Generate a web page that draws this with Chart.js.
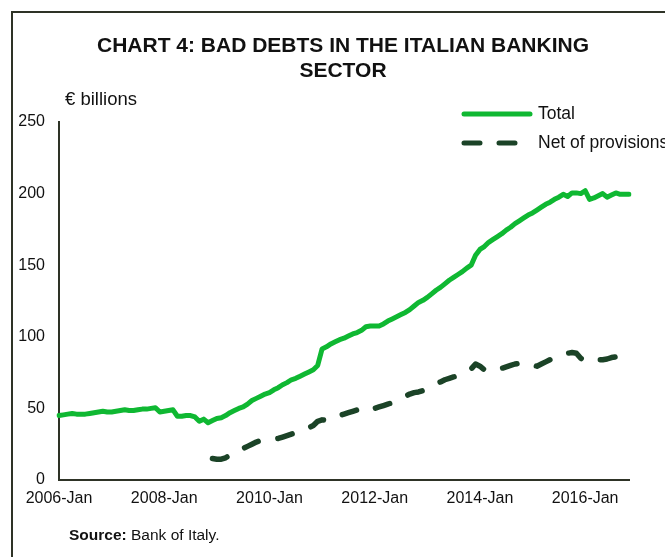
<!DOCTYPE html>
<html>
<head>
<meta charset="utf-8">
<script src="https://cdn.jsdelivr.net/npm/chart.js@4.4.1/dist/chart.umd.min.js"></script>
<style>
  html, body { margin: 0; padding: 0; background: #fff; }
  #wrap { width: 665px; height: 557px; position: relative; }
</style>
</head>
<body>
<div id="wrap"><canvas id="badDebts"></canvas></div>
<script>
// monthly observations, 2006-Jan .. 2016-Nov
const monthNames = ['Jan', 'Feb', 'Mar', 'Apr', 'May', 'Jun', 'Jul', 'Aug', 'Sep', 'Oct', 'Nov', 'Dec'];
const firstYear = 2006;
const monthCount = 131;
const months = [];
for (let i = 0; i < monthCount; i++) {
  months.push(`${firstYear + Math.floor(i / 12)}-${monthNames[i % 12]}`);
}

// € billions
const totalBadDebts = [
  45, 45.5, 46, 46.5, 46, 46, 46, 46.5, 47, 47.5, 48, 47.5,
  47.5, 48, 48.5, 49, 48.5, 48.5, 49, 49.5, 49.5, 50, 50.5, 47.5,
  48, 48.5, 49, 44.5, 44.5, 45, 45, 44, 41, 42.5, 40, 41.5,
  43, 43.5, 45, 47, 48.5, 50, 51, 53, 55.5, 57, 58.5, 60,
  61, 63, 64.5, 66.5, 68, 70, 71, 72.5, 74, 75.5, 77, 80,
  91.5, 93, 95, 96.5, 98, 99, 100.5, 102, 103, 104.5, 107, 107.5,
  107.5, 107.5, 109, 111, 112.5, 114, 115.5, 117, 119, 121.5, 124, 125.5,
  127.5, 130, 132.5, 134.5, 137, 139.5, 141.5, 143.5, 145.5, 148, 150, 157,
  161, 163, 166, 168, 170, 172, 174.5, 176.5, 179, 181, 183, 185,
  186.5, 188.5, 190.5, 192.5, 194, 196, 197.5, 199.5, 198, 200.5, 200.5, 200,
  202, 196, 197, 198.5, 200, 197.5, 199, 200.5, 199.5, 199.5, 199.5
];

const netOfProvisions = [
  null, null, null, null, null, null, null, null, null, null, null, null,
  null, null, null, null, null, null, null, null, null, null, null, null,
  null, null, null, null, null, null, null, null, null, null, null, 15,
  14.5, 14.5, 15.5, 17.5, 19, 21, 22, 23.5, 25, 26.5, 27.5, 28,
  28.5, 28.5, 29, 30, 31, 32, 33, 34, 35, 36.5, 38, 41,
  42, 41.5, 42, 43.5, 45, 46, 47, 48, 49, 50, 50.5, 51.5,
  50, 51, 52, 53, 54, 55.5, 57, 58.5, 60, 61, 61.5, 62.5,
  64, 65.5, 67, 68.5, 70, 71, 72, 73, 74, 75.5, 77.5, 81,
  79.5, 77, 76, 76.5, 77, 78, 79, 80, 81, 81.5, 82, 81.5,
  80.5, 79.5, 81, 82.5, 84, 85, 86.5, 87.5, 88.5, 89, 88.5, 85,
  83, 83, 83.5, 84, 84, 84.5, 85.5, 86, 85.5, 85.5, 85.5
];

const seriesLabels = ['Total', 'Net of provisions'];
const yTicks = [0, 50, 100, 150, 200, 250];
const titleLines = ['CHART 4: BAD DEBTS IN THE ITALIAN BANKING', 'SECTOR'];

const GREEN = '#0fb832';
const DARK = '#1b4327';
const INK = '#111';
const AXIS = '#2e3326';
const FONT = '"Liberation Sans", Arial, sans-serif';

// title, unit label, legend, source and frame
const decorations = {
  id: 'decorations',
  afterDraw(chart) {
    const { ctx } = chart;
    ctx.save();

    // frame
    ctx.strokeStyle = AXIS;
    ctx.lineWidth = 2;
    ctx.beginPath();
    ctx.moveTo(12, 557);
    ctx.lineTo(12, 12);
    ctx.lineTo(665, 12);
    ctx.stroke();

    ctx.fillStyle = INK;
    ctx.textBaseline = 'middle';
    ctx.textAlign = 'center';
    ctx.font = `bold 21px ${FONT}`;
    ctx.fillText(titleLines[0], 343, 46);
    ctx.fillText(titleLines[1], 343, 71);

    ctx.textAlign = 'left';
    ctx.font = `18.5px ${FONT}`;
    ctx.fillText('€ billions', 65, 100);

    // legend
    const ds = chart.data.datasets;
    ctx.lineCap = 'round';
    ctx.lineWidth = 5;
    ctx.strokeStyle = ds[0].borderColor;
    ctx.beginPath();
    ctx.moveTo(464, 114);
    ctx.lineTo(530, 114);
    ctx.stroke();
    ctx.strokeStyle = ds[1].borderColor;
    ctx.beginPath();
    ctx.moveTo(464, 143);
    ctx.lineTo(480, 143);
    ctx.moveTo(499, 143);
    ctx.lineTo(515, 143);
    ctx.stroke();
    ctx.font = `17.5px ${FONT}`;
    ctx.fillText(ds[0].label, 538, 114);
    ctx.fillText(ds[1].label, 538, 143);

    // source
    ctx.font = `bold 15.5px ${FONT}`;
    ctx.fillText('Source:', 69, 536);
    const w = ctx.measureText('Source: ').width;
    ctx.font = `15.5px ${FONT}`;
    ctx.fillText('Bank of Italy.', 69 + w, 536);

    ctx.restore();
  }
};

new Chart(document.getElementById('badDebts'), {
  type: 'line',
  data: {
    labels: months,
    datasets: [
      {
        label: seriesLabels[0],
        data: totalBadDebts,
        borderColor: GREEN,
        borderWidth: 5,
        pointRadius: 0,
        tension: 0,
        borderJoinStyle: 'round',
        borderCapStyle: 'round'
      },
      {
        label: seriesLabels[1],
        data: netOfProvisions,
        borderColor: DARK,
        borderWidth: 5.5,
        borderDash: [15, 20],
        borderCapStyle: 'round',
        borderJoinStyle: 'round',
        pointRadius: 0,
        tension: 0,
        spanGaps: false
      }
    ]
  },
  options: {
    responsive: true,
    maintainAspectRatio: false,
    animation: false,
    layout: { padding: { left: 12, top: 122, right: 36, bottom: 47 } },
    plugins: {
      legend: { display: false },
      title: { display: false },
      tooltip: { enabled: false }
    },
    scales: {
      x: {
        grid: { display: false, drawTicks: false },
        border: { display: true, color: AXIS, width: 2 },
        afterFit(scale) { scale.height = 30; },
        ticks: {
          autoSkip: false,
          maxRotation: 0,
          padding: 9,
          color: INK,
          font: { family: FONT, size: 16 },
          callback(value, index) {
            return index % 24 === 0 ? months[index] : null;
          }
        }
      },
      y: {
        min: yTicks[0],
        max: yTicks[yTicks.length - 1],
        grid: { display: false, drawTicks: false },
        border: { display: true, color: AXIS, width: 2 },
        afterFit(scale) { scale.width = 47; },
        afterBuildTicks(scale) { scale.ticks = yTicks.map(v => ({ value: v })); },
        ticks: {
          padding: 14,
          color: INK,
          font: { family: FONT, size: 16 }
        }
      }
    }
  },
  plugins: [decorations]
});
</script>
</body>
</html>
